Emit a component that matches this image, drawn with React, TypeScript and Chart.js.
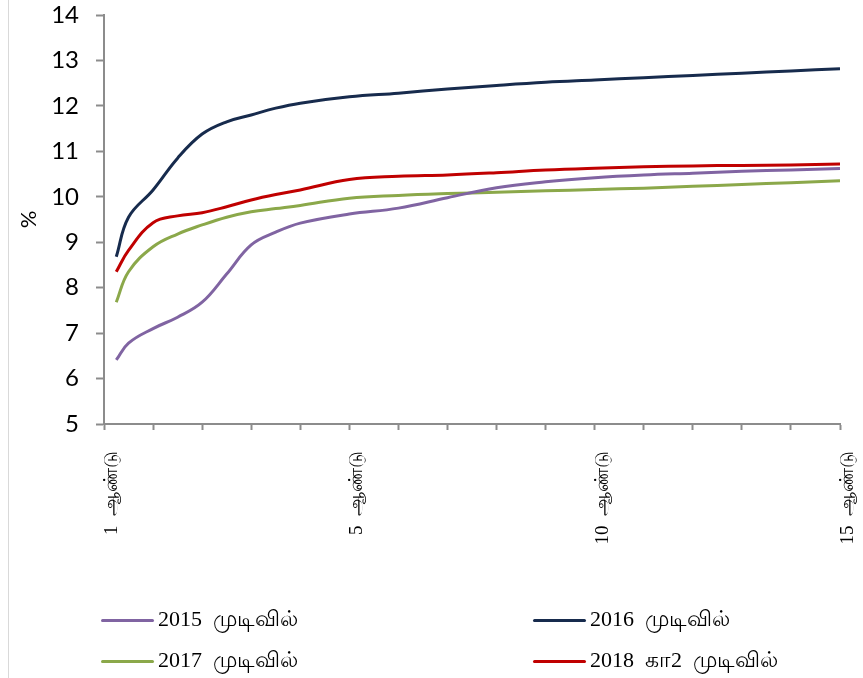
import React, { useEffect, useRef } from "react";
import { Chart, registerables } from "chart.js";

Chart.register(...registerables);

// Maturity (years) of each point on the curves
const tenors = [0.25, 0.5, 1, 1.5, 2, 2.5, 3, 3.5, 4, 5, 6, 7, 8, 9, 10, 11, 12, 13, 14, 15];

// Yields (%)
const y2015 = [6.41, 6.78, 7.1, 7.35, 7.68, 8.3, 8.94, 9.22, 9.42, 9.62, 9.75, 9.98, 10.2, 10.33, 10.42, 10.48, 10.52, 10.56, 10.59, 10.62];
const y2016 = [8.68, 9.55, 10.15, 10.85, 11.38, 11.65, 11.8, 11.95, 12.06, 12.2, 12.28, 12.37, 12.45, 12.52, 12.57, 12.62, 12.67, 12.72, 12.77, 12.82];
const y2017 = [7.68, 8.35, 8.9, 9.18, 9.38, 9.55, 9.67, 9.74, 9.81, 9.97, 10.03, 10.07, 10.1, 10.13, 10.16, 10.19, 10.23, 10.27, 10.31, 10.35];
const y2018 = [8.35, 8.82, 9.43, 9.58, 9.65, 9.78, 9.93, 10.05, 10.15, 10.38, 10.45, 10.48, 10.53, 10.59, 10.63, 10.66, 10.68, 10.69, 10.7, 10.72];

const seriesNames = ["2015  முடிவில்", "2016  முடிவில்", "2017  முடிவில்", "2018  கா2  முடிவில்"];
const seriesColors = ["#8064A2", "#172B4D", "#8BA84A", "#C00000"];

// x-axis tick labels
const xTickValues = [0, 5, 10, 15];
const xTickTexts = ["1  ஆண்டு", "5  ஆண்டு", "10  ஆண்டு", "15  ஆண்டு"];

const yMin = 5;
const yMax = 14;
const yTitle = "%";

function zeroPad(s: any) {
  s.paddingLeft = 0;
  s.paddingRight = 0;
  s.paddingTop = 0;
  s.paddingBottom = 0;
}

export default function App() {
  const ref = useRef<HTMLCanvasElement | null>(null);

  useEffect(() => {
    document.body.style.margin = "0";
    const all = [y2015, y2016, y2017, y2018];
    const chart = new Chart(ref.current!, {
      type: "line",
      data: {
        datasets: all.map((arr, i) => ({
          label: seriesNames[i],
          data: arr.map((v, j) => ({ x: tenors[j], y: v })),
          borderColor: seriesColors[i],
          backgroundColor: seriesColors[i],
          borderWidth: 3,
          pointRadius: 0,
          tension: 0.4,
          fill: false,
        })),
      },
      options: {
        animation: false,
        responsive: false,
        maintainAspectRatio: false,
        layout: { padding: { top: 15, right: 23, bottom: 0, left: 0 } },
        plugins: { legend: { display: false }, tooltip: { enabled: false } },
        scales: {
          x: {
            type: "linear",
            min: 0,
            max: 15,
            afterFit: (s: any) => {
              s.height = 254;
              zeroPad(s);
            },
            afterBuildTicks: (s: any) => {
              const t = [];
              for (let v = 0; v <= 15; v++) t.push({ value: v });
              s.ticks = t;
            },
            border: { color: "#8C8C8C", width: 2 },
            grid: {
              display: true,
              drawOnChartArea: false,
              drawTicks: true,
              tickLength: 6,
              tickColor: "#8C8C8C",
              tickWidth: 2,
            },
            ticks: {
              autoSkip: false,
              minRotation: 90,
              maxRotation: 90,
              padding: 21,
              labelOffset: 8,
              color: "#000",
              font: { family: "'Liberation Serif', 'Times New Roman', serif", size: 19 },
              callback: (v: any) => {
                const k = xTickValues.indexOf(Number(v));
                return k >= 0 ? xTickTexts[k] : "";
              },
            },
          },
          y: {
            min: yMin,
            max: yMax,
            afterFit: (s: any) => {
              s.width = 104;
              zeroPad(s);
            },
            border: { color: "#8C8C8C", width: 2 },
            grid: {
              display: true,
              drawOnChartArea: false,
              drawTicks: true,
              tickLength: 8,
              tickColor: "#8C8C8C",
              tickWidth: 2,
            },
            ticks: {
              stepSize: 1,
              padding: 17,
              color: "#000",
              font: { family: "Lato, 'Liberation Sans', sans-serif", size: 24 },
            },
            title: {
              display: true,
              text: yTitle,
              color: "#000",
              padding: { top: 16, bottom: 0 },
              font: { family: "Lato, 'Liberation Sans', sans-serif", size: 22 },
            },
          },
        },
      },
    });
    return () => chart.destroy();
  }, []);

  const legendPos = [
    { left: 101, top: 607 },
    { left: 533, top: 607 },
    { left: 101, top: 648 },
    { left: 533, top: 648 },
  ];

  return (
    <div style={{ position: "relative", width: 863, height: 678, overflow: "hidden", background: "#fff" }}>
      <div style={{ position: "absolute", left: 8, top: 0, width: 1, height: 678, background: "#D9D9D9" }} />
      <canvas ref={ref} width={863} height={678} style={{ position: "absolute", left: 0, top: 0, width: 863, height: 678 }} />
      {seriesNames.map((n, i) => (
        <div
          key={n}
          style={{
            position: "absolute",
            left: legendPos[i].left,
            top: legendPos[i].top,
            display: "flex",
            alignItems: "center",
            height: 26,
            whiteSpace: "pre",
            fontFamily: "'Liberation Serif', 'Times New Roman', serif",
            fontSize: 22,
            color: "#000",
          }}
        >
          <span style={{ display: "inline-block", width: 53, height: 3, background: seriesColors[i], borderRadius: 2, marginRight: 4 }} />
          <span>{n}</span>
        </div>
      ))}
    </div>
  );
}
